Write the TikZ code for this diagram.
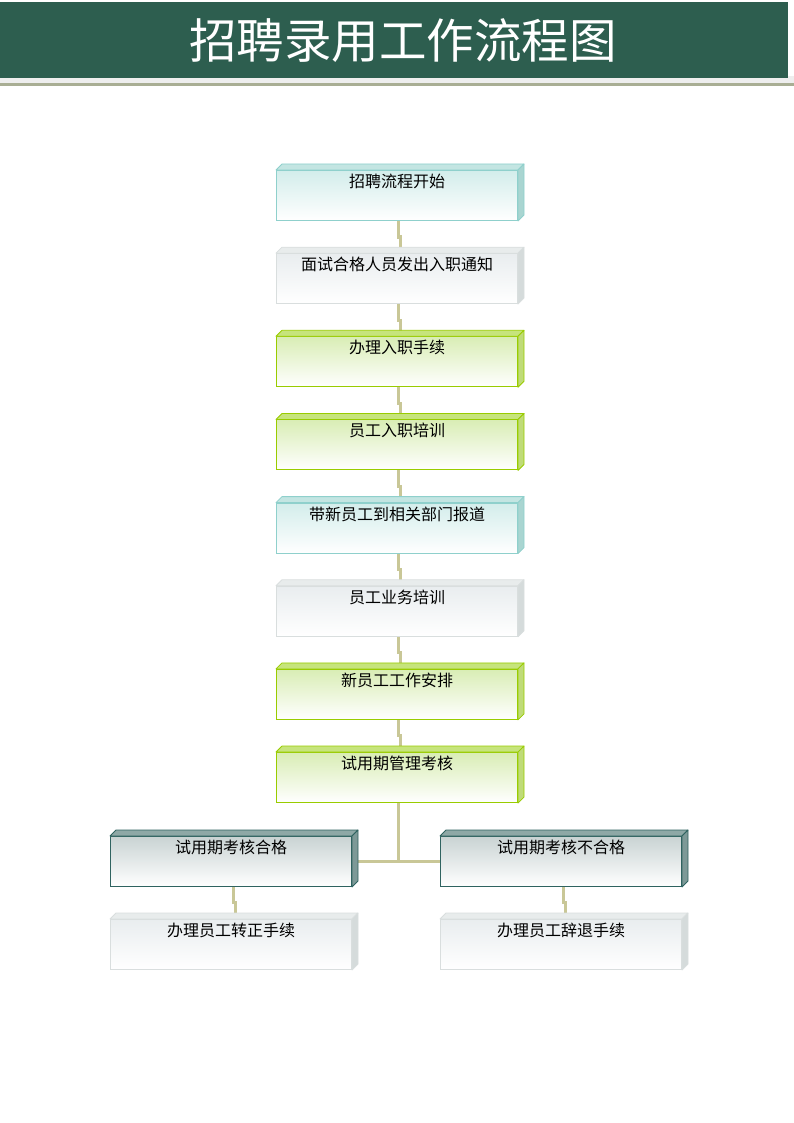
\documentclass[tikz,border=0pt]{standalone}
\usepackage{fontspec}
\newfontfamily\cjk{Noto Sans CJK SC}
\usetikzlibrary{calc,backgrounds}

\definecolor{titlebg}{HTML}{2D5E4F}
\definecolor{titleband}{HTML}{EEEEEE}
\definecolor{titlerule}{HTML}{A9AE94}
\definecolor{linkcol}{HTML}{C9C797}
% front line, top face, side face, top of front shading
\definecolor{linesky}{HTML}{8FD0CC}\definecolor{topsky}{HTML}{C3E5E2}
\definecolor{sidesky}{HTML}{A9D5D1}\definecolor{fillsky}{HTML}{D3EDEB}
\definecolor{linemist}{HTML}{D9DEDE}\definecolor{topmist}{HTML}{E8ECEC}
\definecolor{sidemist}{HTML}{D5DBDB}\definecolor{fillmist}{HTML}{E9EDEF}
\definecolor{lineleaf}{HTML}{99CC00}\definecolor{topleaf}{HTML}{C6E47C}
\definecolor{sideleaf}{HTML}{BFDB78}\definecolor{fillleaf}{HTML}{D9EDB5}
\definecolor{lineslate}{HTML}{2F6360}\definecolor{topslate}{HTML}{8EA8A6}
\definecolor{sideslate}{HTML}{7D9997}\definecolor{fillslate}{HTML}{C9D3D3}

\tikzset{
  box/.style={draw=line#1, line width=1pt, top color=fill#1, bottom color=white,
    anchor=north west, minimum width=241pt, inner xsep=0pt, inner ysep=0pt,
    text height=17pt, text depth=33pt,
    font=\cjk\fontsize{16}{16}\selectfont},
  link/.style={draw=linkcol, line width=3pt},
}

\newcommand\boxdepth[2]{%
  \filldraw[fill=top#2, draw=line#2, line width=.8pt, line join=round]
    (#1.north west) -- ++(6pt,6pt) -- ([shift={(6pt,6pt)}]#1.north east)
    -- (#1.north east) -- cycle;
  \filldraw[fill=side#2, draw=line#2, line width=.8pt, line join=round]
    (#1.north east) -- ++(6pt,6pt) -- ([shift={(6pt,6pt)}]#1.south east)
    -- (#1.south east) -- cycle;}

\begin{document}
\begin{tikzpicture}[x=1pt,y=-1pt]
  \useasboundingbox (0,0) rectangle (794,1123);

  \fill[titleband] (0,76) rectangle (794,83);
  \fill[titlerule] (0,83) rectangle (794,86);
  \fill[titlebg] (0,2) rectangle (788,78);
  \node[text=white, anchor=base, font=\cjk\fontsize{47.5}{47.5}\selectfont]
    (title) at (403,59) {招聘录用工作流程图};

  \foreach \i/\kind/\txt in {1/sky/招聘流程开始, 2/mist/面试合格人员发出入职通知,
      3/leaf/办理入职手续, 4/leaf/员工入职培训, 5/sky/带新员工到相关部门报道,
      6/mist/员工业务培训, 7/leaf/新员工工作安排, 8/leaf/试用期管理考核} {
    \node[box=\kind] (b\i) at (276,{170+83.15*(\i-1)}) {\txt};
    \boxdepth{b\i}{\kind}
  }

  \node[box=slate] (pass) at (110,836) {试用期考核合格};
  \boxdepth{pass}{slate}
  \node[box=slate] (fail) at (440,836) {试用期考核不合格};
  \boxdepth{fail}{slate}
  \node[box=mist] (regular) at (110,919) {办理员工转正手续};
  \boxdepth{regular}{mist}
  \node[box=mist] (dismiss) at (440,919) {办理员工辞退手续};
  \boxdepth{dismiss}{mist}

  \begin{scope}[on background layer]
    \foreach \i [evaluate=\i as \j using int(\i+1)] in {1,...,7} {
      \draw[link] ([xshift=1pt]b\i.south) -- ++(0,16) -- ++(2,0)
        -- ([xshift=3pt]b\j.north);
    }
    \draw[link] ([xshift=1pt]b8.south) -- ([xshift=1pt]b8.south |- pass.east);
    \draw[link] (pass.east) -- (fail.west);
    \draw[link] ([xshift=2pt]pass.south) -- ++(0,15) -- ++(2,0)
      -- ([xshift=4pt]regular.north);
    \draw[link] ([xshift=2pt]fail.south) -- ++(0,15) -- ++(2,0)
      -- ([xshift=4pt]dismiss.north);
  \end{scope}
\end{tikzpicture}
\end{document}
